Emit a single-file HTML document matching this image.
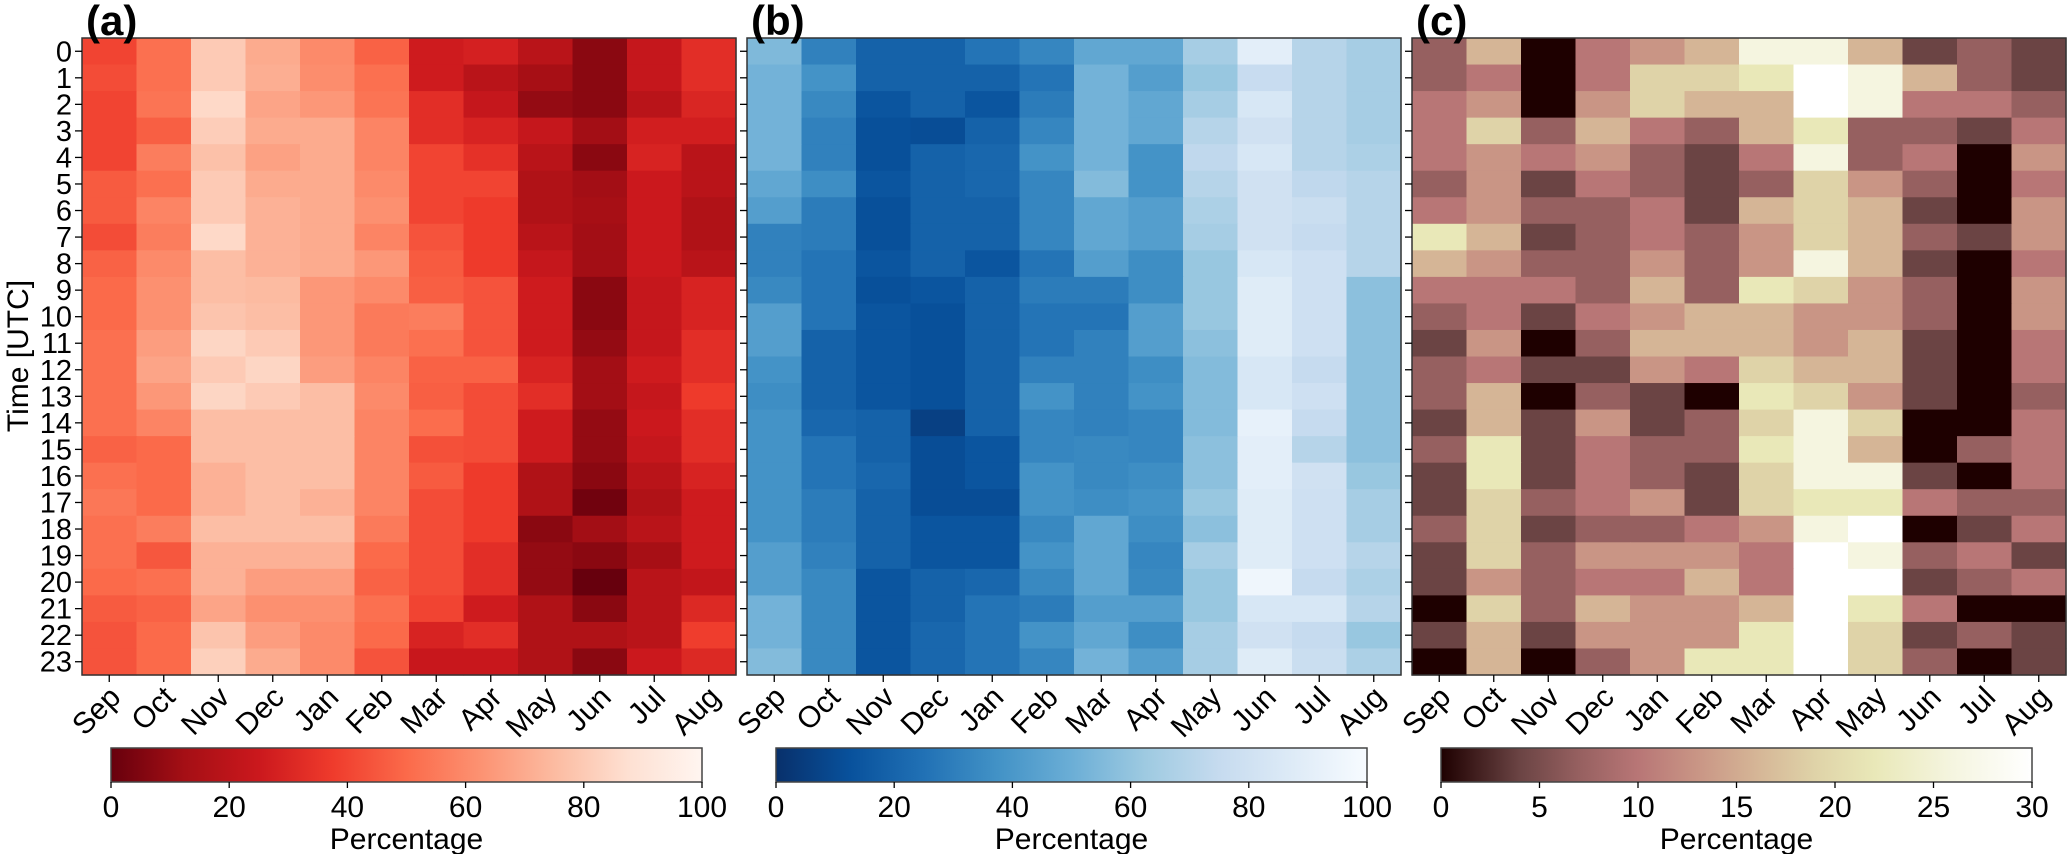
<!DOCTYPE html>
<html><head><meta charset="utf-8">
<style>
html,body{margin:0;padding:0;background:#fff;}
svg{display:block;font-family:"Liberation Sans","DejaVu Sans",sans-serif;}
</style></head>
<body>
<svg id="fig" width="2067" height="854" viewBox="0 0 2067 854" xmlns="http://www.w3.org/2000/svg"></svg>
<script>
const months = ["Sep","Oct","Nov","Dec","Jan","Feb","Mar","Apr","May","Jun","Jul","Aug"];
const hours = ["0","1","2","3","4","5","6","7","8","9","10","11","12","13","14","15","16","17","18","19","20","21","22","23"];
const panelA = [
[40,52,80,70,60,48,26,28,19,7,23,33],
[42,52,80,71,61,52,26,19,13,7,23,33],
[40,53,85,68,64,53,33,23,9,7,19,30],
[40,47,81,70,70,58,33,29,23,12,27,27],
[40,56,77,67,70,58,40,34,19,7,29,19],
[46,52,80,70,70,60,40,40,16,12,25,19],
[46,58,80,72,70,62,40,37,16,13,25,16],
[42,56,85,72,70,58,44,37,19,12,25,16],
[48,60,76,72,70,64,46,37,23,12,25,19],
[50,62,76,75,64,60,47,44,26,7,23,29],
[50,62,78,76,64,55,56,44,26,7,23,29],
[52,66,84,80,64,55,52,44,26,9,23,33],
[52,68,80,84,66,58,48,48,29,12,26,33],
[52,64,84,80,76,60,47,42,33,12,23,37],
[52,58,76,76,76,58,51,42,26,9,25,33],
[48,50,76,76,76,58,43,42,26,9,23,33],
[52,50,72,76,76,58,46,37,16,7,19,29],
[54,50,72,76,72,58,42,37,16,2,16,26],
[52,56,76,76,76,55,42,37,7,12,19,26],
[52,45,72,72,72,50,42,33,9,7,13,26],
[50,52,72,66,66,48,42,33,9,0,19,22],
[46,48,68,62,62,52,40,26,16,7,19,31],
[44,50,78,66,60,50,29,33,16,16,19,38],
[44,50,82,70,60,44,24,24,16,7,25,31]];
const panelB = [
[55,31,19,19,26,33,47,47,65,90,70,65],
[52,38,19,19,19,26,52,43,61,76,70,65],
[52,34,14,19,14,29,52,47,65,84,70,65],
[52,31,12,11,19,33,52,47,70,80,70,65],
[52,31,12,19,21,38,52,38,73,84,70,67],
[47,36,14,19,21,33,56,38,70,80,73,70],
[43,29,12,19,19,33,47,43,67,80,77,70],
[31,29,12,19,19,33,47,43,65,80,75,70],
[31,26,14,19,14,26,43,36,61,84,79,70],
[34,26,12,14,19,29,29,36,61,88,79,58],
[43,26,14,12,19,26,26,43,61,88,79,58],
[43,19,14,12,19,26,31,43,58,88,79,58],
[38,19,14,12,19,31,31,36,56,84,75,58],
[36,19,14,12,19,38,31,38,56,84,79,58],
[38,21,19,6,19,33,31,33,56,92,75,58],
[38,26,19,11,14,33,34,33,58,90,70,58],
[38,26,21,11,14,38,34,36,58,90,80,61],
[38,29,19,11,11,38,36,38,61,88,79,65],
[38,29,19,14,14,34,47,36,58,88,79,65],
[43,31,19,14,14,38,47,33,65,88,79,70],
[43,34,14,19,21,34,47,34,61,96,75,67],
[52,34,14,19,26,29,43,43,61,84,84,70],
[52,34,14,21,26,38,47,36,65,80,75,61],
[56,34,14,21,26,33,52,43,65,88,77,67]];
const panelC = [
[7,16,0,10,13,16,26,26,16,4,7,4],
[7,10,0,10,19,19,22,30,26,16,7,4],
[10,13,0,13,19,16,16,30,26,10,10,7],
[10,19,7,16,10,7,16,22,7,7,4,10],
[10,13,10,13,7,4,10,26,7,10,0,13],
[7,13,4,10,7,4,7,19,13,7,0,10],
[10,13,7,7,10,4,16,19,16,4,0,13],
[22,16,4,7,10,7,13,19,16,7,4,13],
[16,13,7,7,13,7,13,26,16,4,0,10],
[10,10,10,7,16,7,22,19,13,7,0,13],
[7,10,4,10,13,16,16,13,13,7,0,13],
[4,13,0,7,16,16,16,13,16,4,0,10],
[7,10,4,4,13,10,19,16,16,4,0,10],
[7,16,0,7,4,0,22,19,13,4,0,7],
[4,16,4,13,4,7,19,26,19,0,0,10],
[7,22,4,10,7,7,22,26,16,0,7,10],
[4,22,4,10,7,4,19,26,26,4,0,10],
[4,19,7,10,13,4,19,22,22,10,7,7],
[7,19,4,7,7,10,13,26,30,0,4,10],
[4,19,7,13,13,13,10,30,26,7,10,4],
[4,13,7,10,10,16,10,30,30,4,7,10],
[0,19,7,16,13,13,16,30,22,10,0,0],
[4,16,4,13,13,13,22,30,19,4,7,4],
[0,16,0,7,13,22,22,30,19,7,0,4]];
const ticksAB = [0,20,40,60,80,100];
const ticksC = [0,5,10,15,20,25,30];

const NS = "http://www.w3.org/2000/svg";
const svg = document.getElementById("fig");
function mk(tag, attrs, parent){
  const e = document.createElementNS(NS, tag);
  for (const k in attrs) e.setAttribute(k, attrs[k]);
  (parent||svg).appendChild(e);
  return e;
}
const redsR = ["#67000d","#a50f15","#cb181d","#ef3b2c","#fb6a4a","#fc9272","#fcbba1","#fee0d2","#fff5f0"];
const bluesR = ["#08306b","#08519c","#2171b5","#4292c6","#6baed6","#9ecae1","#c6dbef","#deebf7","#f7fbff"];
const pinkStops = [[0,"#1e0000"],[4,"#6b4444"],[7,"#966060"],[10,"#b87676"],[13,"#c99585"],[16,"#d5b596"],[19,"#dfd3a8"],[22,"#e9e8b8"],[26,"#f5f5e0"],[30,"#ffffff"]];
function hex2rgb(h){return [parseInt(h.slice(1,3),16),parseInt(h.slice(3,5),16),parseInt(h.slice(5,7),16)];}
function lerp(c1,c2,t){const a=hex2rgb(c1),b=hex2rgb(c2);return "rgb("+a.map((v,i)=>Math.round(v+(b[i]-v)*t)).join(",")+")";}
function evenMap(stops,vmax){
  const s = stops.map((c,i)=>[i/(stops.length-1)*vmax,c]);
  return {stops:s,vmax:vmax};
}
function colorOf(map,v){
  const s=map.stops;
  if(v<=s[0][0]) return s[0][1];
  for(let i=1;i<s.length;i++){
    if(v<=s[i][0]){const t=(v-s[i-1][0])/(s[i][0]-s[i-1][0]);return lerp(s[i-1][1],s[i][1],t);}
  }
  return s[s.length-1][1];
}
const mapA = evenMap(redsR,100), mapB = evenMap(bluesR,100), mapC = {stops:pinkStops,vmax:30};

const TOP=38, H=637, W=654;
const panels = [
  {id:"a", x0:82, data:panelA, map:mapA, cb:[111,702], ticks:ticksAB, labels:true},
  {id:"b", x0:747, data:panelB, map:mapB, cb:[776,1367], ticks:ticksAB, labels:false},
  {id:"c", x0:1412, data:panelC, map:mapC, cb:[1441,2032], ticks:ticksC, labels:false}
];
const defs = mk("defs",{});
panels.forEach(p=>{
  const g = mk("g",{});
  
  
  const cw = W/months.length, rh = H/hours.length;
  const xPos = i => p.x0 + i*cw;
  const yPos = j => TOP + j*rh;
  p.data.forEach((row,j)=>row.forEach((v,i)=>{
    const r = mk("rect",{x:xPos(i).toFixed(2),y:yPos(j).toFixed(2),width:(cw+0.6).toFixed(2),height:(rh+0.6).toFixed(2),fill:colorOf(p.map,v)},g);
    
    
  }));
  const fr = mk("rect",{x:p.x0,y:TOP,width:W,height:H,fill:"none",stroke:"#333",'stroke-width':1.5},g);
  
  
  const ttl = mk("text",{x:p.x0+4,y:35,'font-size':42,'font-weight':'bold',fill:"#000"},g);
  ttl.textContent = "("+p.id+")";
  
  
  hours.forEach((h,j)=>{
    const y = yPos(j)+rh/2;
    mk("line",{x1:p.x0-7,x2:p.x0,y1:y,y2:y,stroke:"#000",'stroke-width':1.3},g);
    if(p.labels){
      const t = mk("text",{x:p.x0-10,y:y+10,'font-size':29,'text-anchor':'end',fill:"#000"},g);
      t.textContent = h;
      
      
    }
  });
  months.forEach((m,i)=>{
    const x = xPos(i)+cw/2;
    mk("line",{x1:x,x2:x,y1:TOP+H,y2:TOP+H+7,stroke:"#000",'stroke-width':1.3},g);
    const t = mk("text",{x:x+13,y:TOP+H+24,'font-size':30,'text-anchor':'end',fill:"#000",transform:"rotate(-45 "+(x+13)+" "+(TOP+H+24)+")"},g);
    t.textContent = m;
    
    
  });
  const gid = "grad"+p.id;
  const lg = mk("linearGradient",{id:gid,x1:0,x2:1,y1:0,y2:0},defs);
  p.map.stops.forEach(s=>mk("stop",{offset:(s[0]/p.map.vmax),'stop-color':s[1]},lg));
  const [c0,c1] = p.cb;
  const cb = mk("rect",{x:c0,y:748,width:c1-c0,height:34,fill:"url(#"+gid+")",stroke:"#444",'stroke-width':1.5},g);
  
  
  const cx = v => c0 + (v/p.map.vmax)*(c1-c0);
  p.ticks.forEach(v=>{
    mk("line",{x1:cx(v),x2:cx(v),y1:782,y2:788,stroke:"#000",'stroke-width':1.3},g);
    const t = mk("text",{x:cx(v),y:817,'font-size':30,'text-anchor':'middle',fill:"#000"},g);
    t.textContent = String(v);
    
    
  });
  const lab = mk("text",{x:(c0+c1)/2,y:849,'font-size':30,'text-anchor':'middle',fill:"#000"},g);
  lab.textContent = "Percentage";
  
  
});
const yl = mk("text",{x:28,y:356,'font-size':30,'text-anchor':'middle',fill:"#000",transform:"rotate(-90 28 356)"});
yl.textContent = "Time [UTC]";


</script>
</body></html>
